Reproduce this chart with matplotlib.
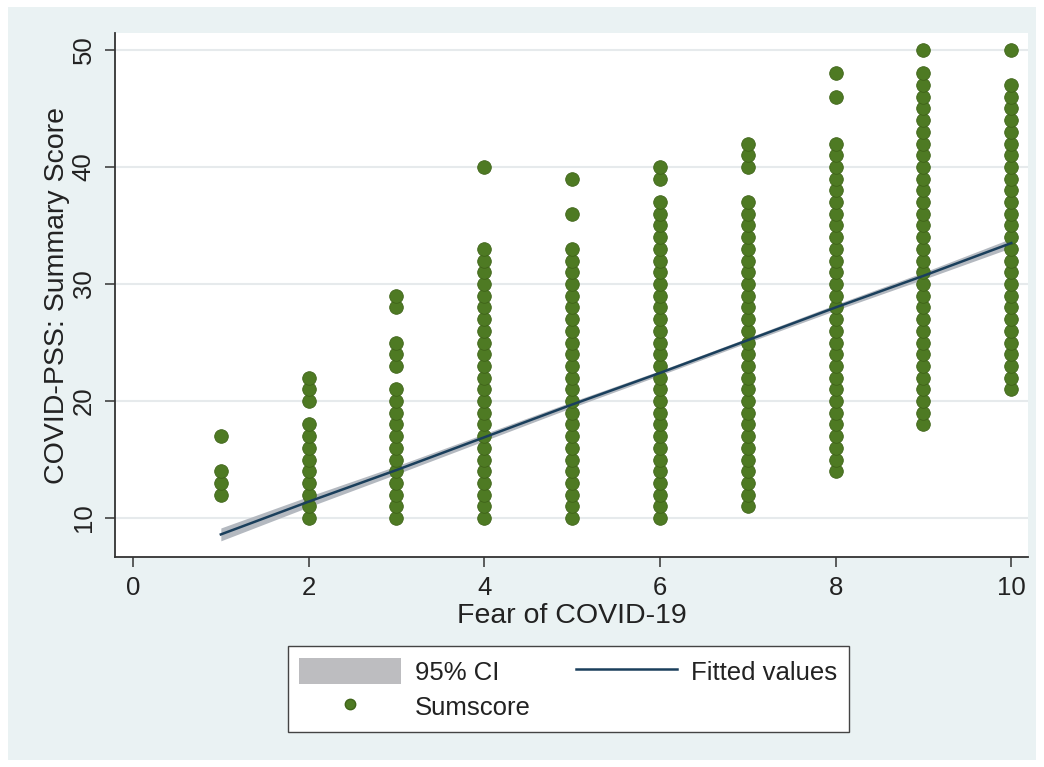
import matplotlib
matplotlib.use("Agg")
import matplotlib.pyplot as plt
from matplotlib.patches import Patch, Rectangle
from matplotlib.lines import Line2D

# ---- data ----
fear_levels = [1, 2, 3, 4, 5, 6, 7, 8, 9, 10]
sumscores = {
    1: [12, 13, 14, 17],
    2: [10, 11, 12, 13, 14, 15, 16, 17, 18, 20, 21, 22],
    3: [10, 11, 12, 13, 14, 15, 16, 17, 18, 19, 20, 21, 23, 24, 25, 28, 29],
    4: [10, 11, 12, 13, 14, 15, 16, 17, 18, 19, 20, 21, 22, 23, 24, 25, 26, 27, 28, 29, 30, 31, 32, 33, 40],
    5: [10, 11, 12, 13, 14, 15, 16, 17, 18, 19, 20, 21, 22, 23, 24, 25, 26, 27, 28, 29, 30, 31, 32, 33, 36, 39],
    6: [10, 11, 12, 13, 14, 15, 16, 17, 18, 19, 20, 21, 22, 23, 24, 25, 26, 27, 28, 29, 30, 31, 32, 33, 34, 35, 36, 37, 39, 40],
    7: [11, 12, 13, 14, 15, 16, 17, 18, 19, 20, 21, 22, 23, 24, 25, 26, 27, 28, 29, 30, 31, 32, 33, 34, 35, 36, 37, 40, 41, 42],
    8: [14, 15, 16, 17, 18, 19, 20, 21, 22, 23, 24, 25, 26, 27, 28, 29, 30, 31, 32, 33, 34, 35, 36, 37, 38, 39, 40, 41, 42, 46, 48],
    9: [18, 19, 20, 21, 22, 23, 24, 25, 26, 27, 28, 29, 30, 31, 32, 33, 34, 35, 36, 37, 38, 39, 40, 41, 42, 43, 44, 45, 46, 47, 48, 50],
    10: [21, 22, 23, 24, 25, 26, 27, 28, 29, 30, 31, 32, 33, 34, 35, 36, 37, 38, 39, 40, 41, 42, 43, 44, 45, 46, 47, 50],
}
fit_x = [1, 2, 3, 4, 5, 6, 7, 8, 9, 10]
fit_y = [8.6, 11.4, 14.1, 16.9, 19.7, 22.4, 25.2, 28.0, 30.7, 33.5]
ci_lo = [8.05, 10.95, 13.75, 16.6, 19.45, 22.2, 25.0, 27.75, 30.4, 33.1]
ci_hi = [9.15, 11.85, 14.45, 17.2, 19.95, 22.6, 25.4, 28.25, 31.0, 33.9]
x_ticks = [0, 2, 4, 6, 8, 10]
y_ticks = [10, 20, 30, 40, 50]

FONT = "Liberation Sans"
plt.rcParams["font.family"] = [FONT, "DejaVu Sans"]

W, H = 1044, 767
fig = plt.figure(figsize=(W / 100, H / 100), dpi=100, facecolor="white")

# outer graph region (light blue-grey)
fig.patches.append(Rectangle((8 / W, 1 - 760 / H), (1036 - 8) / W, (760 - 7) / H,
                             transform=fig.transFigure, facecolor="#eaf2f3",
                             edgecolor="none", zorder=-10))

ax = fig.add_axes([115 / W, 1 - 557 / H, (1028 - 115) / W, (557 - 33) / H])
ax.set_zorder(2)
ax.set_facecolor("white")

ax.fill_between(fit_x, ci_lo, ci_hi, color="#b4b9c0", linewidth=0, zorder=2)
xs, ys = [], []
for f in fear_levels:
    for s in sumscores[f]:
        xs.append(f)
        ys.append(s)
MS = 9.8
ax.plot(xs, ys, linestyle="none", marker="o", markersize=MS,
        markerfacecolor="#4e7a23", markeredgecolor="#3f6419", markeredgewidth=0.6, zorder=3)
ax.plot(fit_x, fit_y, color="#1a3f5c", linewidth=1.8, zorder=4)

ax.set_xlim(-0.205, 10.19)
ax.set_ylim(6.67, 51.45)
ax.set_xticks(x_ticks)
ax.set_yticks(y_ticks)
ax.grid(axis="y", color="#e6eaec", linewidth=1.5, zorder=0)
ax.set_axisbelow(True)
for side in ["top", "right"]:
    ax.spines[side].set_visible(False)
for side in ["left", "bottom"]:
    ax.spines[side].set_color("#333333")
    ax.spines[side].set_linewidth(1.3)
ax.tick_params(axis="both", direction="out", length=7, width=1.1, color="#333333",
               labelsize=18.5, labelcolor="#222222", pad=7)
for lab in ax.get_yticklabels():
    lab.set_rotation(90)
    lab.set_va("center")

ax.set_xlabel("Fear of COVID-19", fontsize=20.5, color="#222222", labelpad=2)
ax.set_ylabel("COVID-PSS: Summary Score", fontsize=20.5, color="#222222", labelpad=1)

handles = [
    Patch(facecolor="#bdbdc0", edgecolor="none", label="95% CI"),
    Line2D([], [], linestyle="none", marker="o", markersize=7.5,
           markerfacecolor="#4e7a23", markeredgecolor="#3f6419", label="Sumscore"),
    Line2D([], [], color="#1a3f5c", linewidth=1.8, label="Fitted values"),
]
leg = fig.legend(handles=handles, ncol=2, loc="center",
                 bbox_to_anchor=((287 + 850) / 2 / W, 1 - (645 + 733) / 2 / H),
                 fontsize=18.5, frameon=True, fancybox=False, handlelength=3.95,
                 handleheight=1.15, columnspacing=1.75, labelspacing=0.35,
                 borderpad=0.45, handletextpad=0.55)
fr = leg.get_frame()
fr.set_edgecolor("#444444")
fr.set_linewidth(1.0)
fr.set_facecolor("white")
fr.set_alpha(1.0)
for t in leg.get_texts():
    t.set_color("#222222")

fig.savefig("out.png", dpi=100, facecolor=fig.get_facecolor())
